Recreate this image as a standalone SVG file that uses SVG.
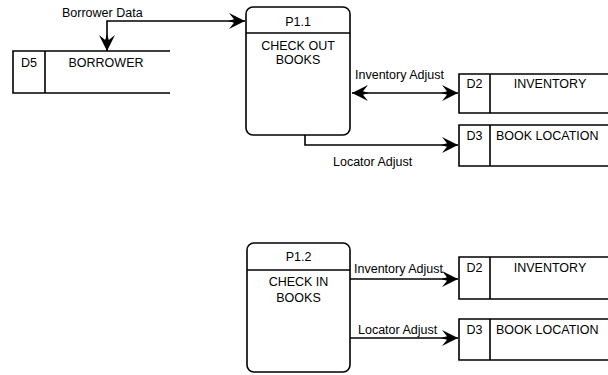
<svg xmlns="http://www.w3.org/2000/svg" width="608" height="375" viewBox="0 0 608 375">
<style>
.ln{fill:none;stroke:#000;stroke-width:1.6}
.t{font-family:"Liberation Sans",Arial,sans-serif;font-size:12.5px;fill:#000}
.c{text-anchor:middle}
</style>
<defs>
<marker id="ah" viewBox="-18 -9 19 18" refX="0" refY="0" markerWidth="19" markerHeight="18" markerUnits="userSpaceOnUse" orient="auto-start-reverse">
<path d="M0,0 L-16,-8 L-11,-1.8 L-17,0 L-11,1.8 L-16,8 Z" fill="#000"/>
</marker>
</defs>
<rect width="608" height="375" fill="#fff"/>
<g id="connectors">
<polyline class="ln" points="107,51 107,21 245,21" marker-start="url(#ah)" marker-end="url(#ah)"/>
<text class="t" x="62" y="17">Borrower Data</text>
<line class="ln" x1="352" y1="93" x2="458" y2="93" marker-start="url(#ah)" marker-end="url(#ah)"/>
<text class="t" x="355" y="79">Inventory Adjust</text>
<polyline class="ln" points="305,135 305,145 458,145" marker-end="url(#ah)"/>
<text class="t" x="333" y="166">Locator Adjust</text>
<line class="ln" x1="350" y1="279" x2="458" y2="279" marker-end="url(#ah)"/>
<text class="t" x="354" y="273">Inventory Adjust</text>
<line class="ln" x1="350" y1="338" x2="458" y2="338" marker-end="url(#ah)"/>
<text class="t" x="358" y="334">Locator Adjust</text>
</g>
<g id="D5">
<path class="ln" d="M170,51 H13 V93 H170 M45,51 V93"/>
<text class="t c" x="29" y="67">D5</text>
<text class="t c" x="106" y="67">BORROWER</text>
</g>
<g id="P1.1">
<rect class="ln" x="246" y="7" width="104" height="128" rx="7"/>
<line class="ln" x1="246" y1="33" x2="350" y2="33"/>
<text class="t c" x="298" y="26">P1.1</text>
<text class="t c" x="298" y="50">CHECK OUT</text>
<text class="t c" x="298" y="64">BOOKS</text>
</g>
<g id="D2a">
<path class="ln" d="M608,74 H459 V113 H608 M490,74 V113"/>
<text class="t c" x="474.5" y="88">D2</text>
<text class="t c" x="550" y="88">INVENTORY</text>
</g>
<g id="D3a">
<path class="ln" d="M608,125 H459 V166 H608 M490,125 V166"/>
<text class="t c" x="474.5" y="140">D3</text>
<text class="t" x="496" y="140">BOOK LOCATION</text>
</g>
<g id="P1.2">
<rect class="ln" x="247" y="243" width="103" height="129" rx="7"/>
<line class="ln" x1="247" y1="270" x2="350" y2="270"/>
<text class="t c" x="298.5" y="261">P1.2</text>
<text class="t c" x="298.5" y="286">CHECK IN</text>
<text class="t c" x="298.5" y="302">BOOKS</text>
</g>
<g id="D2b">
<path class="ln" d="M608,257 H459 V299 H608 M490,257 V299"/>
<text class="t c" x="474.5" y="272">D2</text>
<text class="t c" x="550" y="272">INVENTORY</text>
</g>
<g id="D3b">
<path class="ln" d="M608,319 H459 V360 H608 M490,319 V360"/>
<text class="t c" x="474.5" y="334">D3</text>
<text class="t" x="496" y="334">BOOK LOCATION</text>
</g>
</svg>
